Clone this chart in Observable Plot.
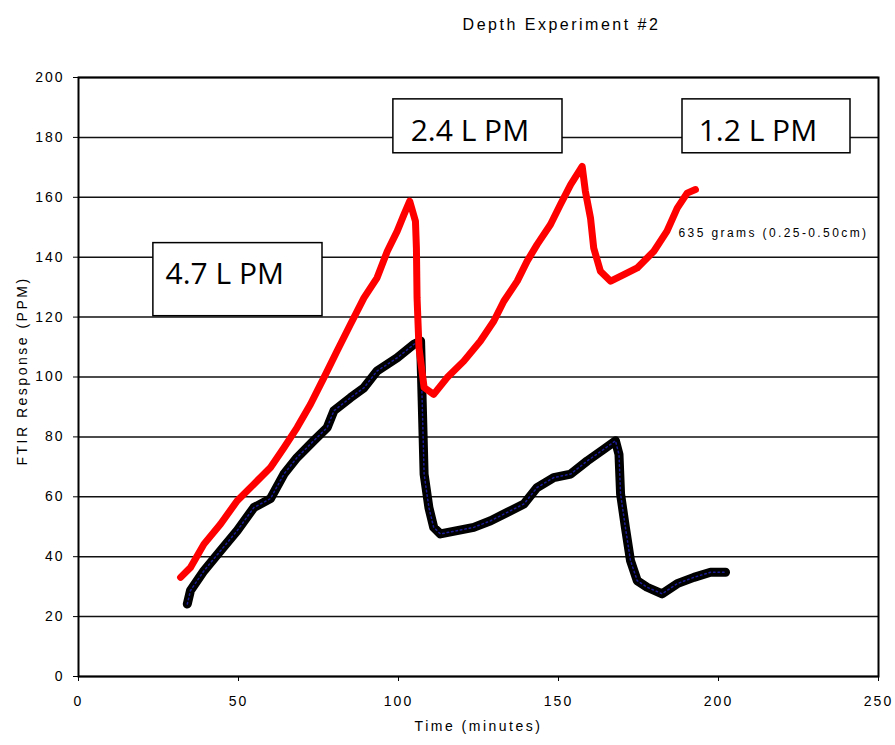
<!DOCTYPE html>
<html>
<head>
<meta charset="utf-8">
<script src="https://cdn.jsdelivr.net/npm/d3@7"></script>
<script src="https://cdn.jsdelivr.net/npm/@observablehq/plot@0.6"></script>
<style>
  html, body { margin: 0; padding: 0; background: #fff; }
</style>
</head>
<body>
<div id="chart"></div>
<script>
// Depth experiment #2: FTIR response over time for two sampling runs
const chartTitle = "Depth Experiment #2";
const xTitle = "Time (minutes)";
const yTitle = "FTIR Response (PPM)";

const xTicks = [0, 50, 100, 150, 200, 250];
const yTicks = [0, 20, 40, 60, 80, 100, 120, 140, 160, 180, 200];

// Upper (red) trace
const upperTime = [31.9, 35, 39.2, 44.4, 49.6, 54.8, 60, 64.2, 68.3, 72.5, 76.7, 80.8, 85, 89.2, 93.3, 96.5, 99.6, 101.7, 103.5, 105.3, 105.6, 105.8, 106.4, 108, 111, 115.2, 120.4, 125.6, 129.8, 132.9, 137.1, 140.2, 143.3, 147.5, 150.6, 153.8, 157.4, 158.4, 160, 161, 163.1, 166.3, 170.4, 174.6, 179.8, 183.9, 187.1, 190.2, 192.8];
const upperPPM  = [33.1, 36.4, 44.2, 50.9, 58.7, 64.2, 69.8, 76.4, 83.1, 90.9, 99.8, 108.7, 117.6, 126.4, 133.1, 142, 148.7, 154.2, 158.7, 152, 143, 126.4, 109.8, 96.5, 94.2, 99.8, 105.3, 112, 118.7, 125.3, 132, 138.7, 144.2, 150.9, 157.6, 164.2, 170.3, 162, 153.1, 143.1, 135.3, 132, 134.2, 136.4, 142, 148.7, 156.4, 161.4, 162.6];

// Lower (black) trace
const lowerTime = [34, 35, 39.2, 44.4, 49.6, 54.8, 60, 64.2, 68.3, 73.5, 77.7, 79.8, 85, 89.2, 93.3, 99.6, 104.8, 106.9, 107.4, 108, 109.5, 111, 113.1, 118.3, 123.5, 128.8, 134, 139.2, 143.3, 148.5, 153.8, 159, 164.2, 167.8, 168.9, 169.4, 170.9, 172.5, 174.6, 177.7, 182.4, 187.1, 192.3, 197.5, 202.2];
const lowerPPM  = [24.2, 28.7, 35.3, 42, 48.7, 56.4, 59.4, 67.6, 73.1, 78.7, 83.1, 88.7, 93.1, 96.4, 102, 106.4, 110.9, 112, 92, 67.6, 56.4, 49.8, 47.6, 48.7, 49.8, 52, 54.8, 57.6, 63.1, 66.4, 67.6, 72, 75.9, 78.7, 74.2, 60.9, 49.8, 38.7, 32, 29.8, 27.6, 31, 33.1, 34.8, 34.8];

// Flow-rate callouts: box extents and text anchor, in data units
const flowLabels = ["4.7 L PM", "2.4 L PM", "1.2 L PM"];
const flowX1 = [23.4, 98.4, 188.75];
const flowX2 = [76.25, 151.25, 241.25];
const flowY1 = [120.3, 174.7, 174.7];
const flowY2 = [144.7, 192.7, 192.7];
const flowTextX = [27.2, 103.8, 193.8];
const flowTextY = [134.3, 182, 182];

// Sample note beside the end of the upper trace
const noteLabel = ["635 grams (0.25-0.50cm)"];
const noteTime = [187.5];
const notePPM = [148];

const upper = upperTime.map((t, i) => ({t, v: upperPPM[i]}));
const lower = lowerTime.map((t, i) => ({t, v: lowerPPM[i]}));
const boxes = flowLabels.map((label, i) => ({
  label, x1: flowX1[i], x2: flowX2[i], y1: flowY1[i], y2: flowY2[i],
  tx: flowTextX[i], ty: flowTextY[i]
}));
const notes = noteLabel.map((label, i) => ({label, t: noteTime[i], v: notePPM[i]}));

const chart = Plot.plot({
  width: 895,
  height: 745,
  marginLeft: 78,
  marginRight: 17,
  marginTop: 77,
  marginBottom: 69,
  style: {
    fontFamily: "'Liberation Sans', Arial, sans-serif",
    fontSize: "14px",
    background: "#fff",
    color: "#000",
    letterSpacing: "2px"
  },
  x: {domain: [0, 250], label: null},
  y: {domain: [0, 200], label: null},
  marks: [
    Plot.ruleY(yTicks, {stroke: "#111", strokeWidth: 1.5}),
    Plot.line(lower, {x: "t", y: "v", stroke: "#000", strokeWidth: 9, strokeLinejoin: "round"}),
    Plot.line(lower, {x: "t", y: "v", stroke: "#1c1c9a", strokeWidth: 1.5, strokeDasharray: "1.5 3"}),
    Plot.line(upper, {x: "t", y: "v", stroke: "#ff0000", strokeWidth: 7, strokeLinejoin: "round"}),
    Plot.rect(boxes, {x1: "x1", x2: "x2", y1: "y1", y2: "y2", fill: "#fff", stroke: "#000", strokeWidth: 1.5}),
    Plot.text(boxes, {x: "tx", y: "ty", text: "label", textAnchor: "start",
      fontFamily: "Open Sans", fontSize: 30, fill: "#000"}),
    Plot.text(notes, {x: "t", y: "v", text: "label", textAnchor: "start", fontSize: 12, fill: "#000"}),
    Plot.frame({stroke: "#000", strokeWidth: 2}),
    Plot.axisX({ticks: xTicks, tickSize: 5, tickPadding: 15, fontSize: 14, stroke: "#000"}),
    Plot.axisY({ticks: yTicks, tickSize: 5, tickPadding: 9, fontSize: 14, stroke: "#000"}),
    Plot.text([chartTitle], {frameAnchor: "top", textAnchor: "middle", dy: -59, dx: 83, fontSize: 16}),
    Plot.text([xTitle], {frameAnchor: "bottom", textAnchor: "middle", dy: 54, fontSize: 14}),
    Plot.text([yTitle], {frameAnchor: "left", textAnchor: "middle", rotate: -90, dx: -56, dy: -6, fontSize: 14})
  ]
});

// Per-label letter spacing for the wide, bitmap-like chart lettering
const spacing = new Map([
  [chartTitle, "2.5px"], [xTitle, "2.5px"], [yTitle, "2.5px"], [noteLabel[0], "2.4px"]
]);
flowLabels.forEach(l => spacing.set(l, "0px"));
d3.select(chart).selectAll("text").each(function() {
  const s = spacing.get(this.textContent);
  if (s) this.style.letterSpacing = s;
});
document.getElementById("chart").appendChild(chart);
</script>
</body>
</html>
